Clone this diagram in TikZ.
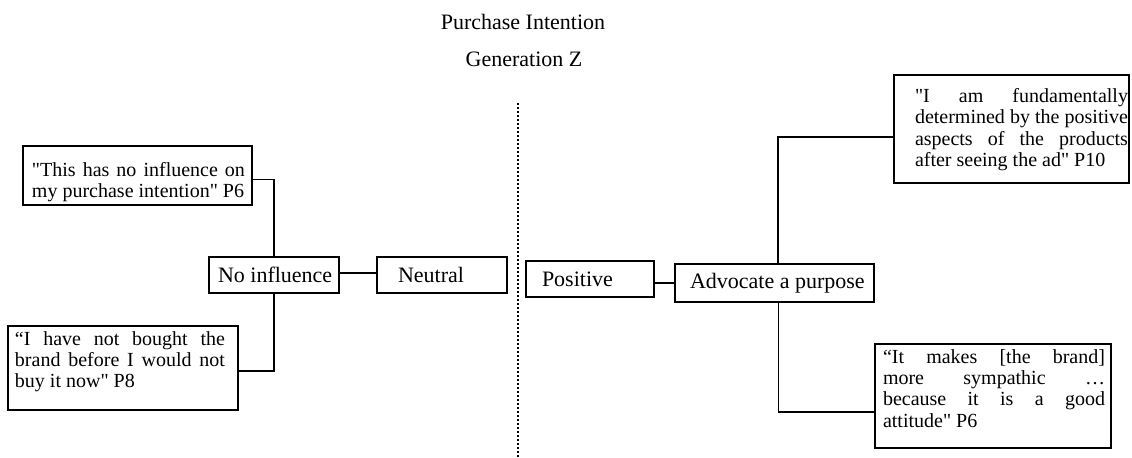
\documentclass[tikz,border=0pt]{standalone}
\usepackage{fontspec}
\setmainfont{Liberation Serif}[Ligatures=TeXOff]

% justified line that fills the current paragraph width
\newcommand\jline[1]{\makebox[\linewidth][s]{#1}}
% quotation box content: left pad, text width, right pad, height, top pad, lines
\newcommand\quotebody[6]{\hspace*{#1}\parbox[c][#4][t]{#2}{\fontsize{10}{10.7}\selectfont\vspace*{#5}#6}\hspace*{#3}}
% category label: box width, left pad, text
\newcommand\labelbody[3]{\makebox[#1][l]{\hspace*{#2}#3}}

\tikzset{
  quote/.style={draw, line width=0.9pt, inner sep=0pt},
  catbox/.style={draw, line width=0.9pt, inner sep=0pt, font=\fontsize{11}{13}\selectfont},
  heading/.style={font=\fontsize{11}{13}\selectfont, inner sep=0pt},
  link/.style={line width=0.8pt},
  divider/.style={line width=0.7pt, dash pattern=on 1pt off 1pt}
}

\begin{document}
\begin{tikzpicture}[x=0.5pt, y=-0.5pt]
\useasboundingbox (0,0) rectangle (1132,457);

% headings
\node[heading] (title) at (523,22) {Purchase Intention};
\node[heading] (gen) at (524,59) {Generation Z};

% divider between the two halves
\coordinate (divtop) at (518,103);
\coordinate (divbot) at (518,457);
\draw[divider] (divtop) -- (divbot);

% left half
\node[catbox, minimum height=18pt] (noinf) at (274,275) {\labelbody{65pt}{4.5pt}{No influence}};
\node[catbox, minimum height=18pt] (neutral) at (442,275) {\labelbody{65pt}{10.5pt}{Neutral}};

\node[quote] (q1) at (137.5,175.5) {\quotebody{4.5pt}{106.5pt}{3.5pt}{29.5pt}{8.1pt}{%
  \jline{"This has no influence on}\\
  my purchase intention" P6}};

\node[quote] (q2) at (123,368) {\quotebody{3.5pt}{105pt}{6.5pt}{42pt}{2.6pt}{%
  \jline{“I have not bought the}\\
  \jline{brand before I would not}\\
  buy it now" P8}};

% right half
\node[catbox, minimum height=18pt] (positive) at (590,279) {\labelbody{64pt}{8pt}{Positive}};
\node[catbox, minimum height=19pt] (adv) at (774.5,283) {\labelbody{99.5pt}{7.5pt}{Advocate a purpose}};

\node[quote] (q3) at (1011.5,129) {\quotebody{10.5pt}{106.5pt}{0.5pt}{54pt}{6.6pt}{%
  \jline{"I am fundamentally}\\
  \jline{determined by the positive}\\
  \jline{aspects of the products}\\
  after seeing the ad" P10}};

\node[quote] (q4) at (993,396) {\quotebody{4pt}{111pt}{3pt}{52pt}{2.6pt}{%
  \jline{“It makes [the brand]}\\
  \jline{more sympathic …}\\
  \jline{because it is a good}\\
  attitude" P6}};

% connectors
\draw[link] ([yshift=-2pt]q1.east) -| (noinf.north);
\draw[link] ([yshift=-1.5pt]q2.east) -| (noinf.south);
\draw[link] ([yshift=1pt]noinf.east) -- ([yshift=1pt]neutral.west);
\draw[link] (adv.west) -- (adv.west -| positive.east);
\draw[link] ([xshift=1.75pt]adv.north) |- ([yshift=-4pt]q3.west);
\draw[link] ([xshift=2pt]adv.south) |- ([yshift=-8pt]q4.west);
\end{tikzpicture}
\end{document}
